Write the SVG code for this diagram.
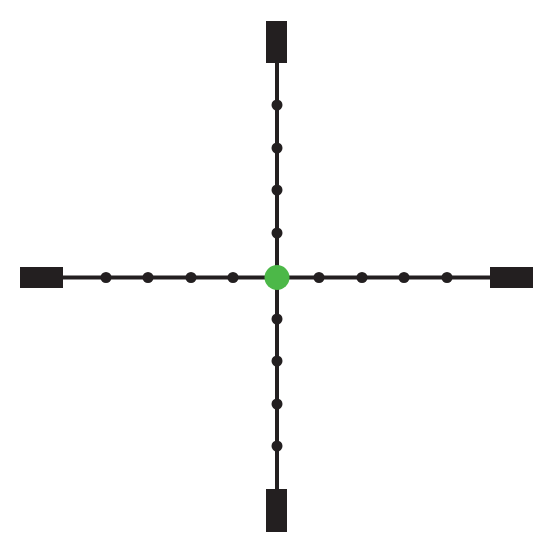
<svg xmlns="http://www.w3.org/2000/svg" width="555" height="556" viewBox="0 0 555 556">
<style>
.ln{stroke:#231f20;stroke-width:4;fill:none}
.post{fill:#231f20}
.dot{fill:#231f20}
.ctr{fill:#4cb848}
</style>
<rect width="555" height="556" fill="#fff"/>
<g id="connectors">
<line class="ln" x1="277" y1="62" x2="277" y2="490"/>
<line class="ln" x1="62" y1="277.5" x2="491" y2="277.5"/>
</g>
<g id="post-top"><rect class="post" x="266" y="21" width="21" height="42"/></g>
<g id="post-bottom"><rect class="post" x="266" y="489" width="21" height="43"/></g>
<g id="post-left"><rect class="post" x="20" y="267" width="43" height="21"/></g>
<g id="post-right"><rect class="post" x="490" y="267" width="43" height="21"/></g>
<g id="dots">
<circle class="dot" cx="277" cy="105" r="5.5"/>
<circle class="dot" cx="277" cy="148" r="5.5"/>
<circle class="dot" cx="277" cy="190" r="5.5"/>
<circle class="dot" cx="277" cy="233" r="5.5"/>
<circle class="dot" cx="277" cy="319" r="5.5"/>
<circle class="dot" cx="277" cy="361" r="5.5"/>
<circle class="dot" cx="277" cy="404" r="5.5"/>
<circle class="dot" cx="277" cy="446" r="5.5"/>
<circle class="dot" cx="106" cy="277.5" r="5.5"/>
<circle class="dot" cx="148" cy="277.5" r="5.5"/>
<circle class="dot" cx="191" cy="277.5" r="5.5"/>
<circle class="dot" cx="233" cy="277.5" r="5.5"/>
<circle class="dot" cx="319" cy="277.5" r="5.5"/>
<circle class="dot" cx="362" cy="277.5" r="5.5"/>
<circle class="dot" cx="404" cy="277.5" r="5.5"/>
<circle class="dot" cx="447" cy="277.5" r="5.5"/>
</g>
<g id="center"><circle class="ctr" cx="277" cy="277.5" r="12.5"/></g>
</svg>
